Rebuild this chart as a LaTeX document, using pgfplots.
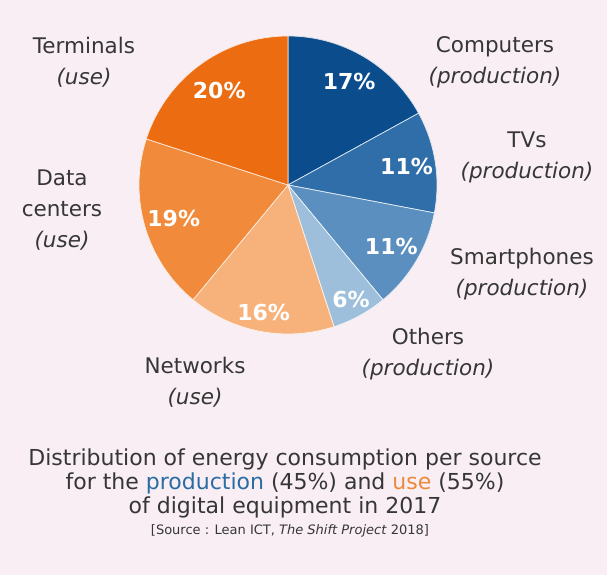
\documentclass[border=0pt]{standalone}
\usepackage{pgfplots}
\pgfplotsset{compat=1.18}
\usepackage{pgfplotstable}
\usepackage{fontspec}
\setmainfont{DejaVu Sans}

\definecolor{bg}{HTML}{F8EEF3}
\definecolor{txt}{HTML}{363636}
\definecolor{s0}{HTML}{0B4D8C}
\definecolor{s1}{HTML}{2F6EA8}
\definecolor{s2}{HTML}{5B8FC0}
\definecolor{s3}{HTML}{9DBFDB}
\definecolor{s4}{HTML}{F7B27C}
\definecolor{s5}{HTML}{F18A3A}
\definecolor{s6}{HTML}{EC6C12}
\definecolor{prodblue}{HTML}{2A6CA3}
\definecolor{useorange}{HTML}{EC8A3C}

% share of energy consumption (%), and radius of the % label (px)
\pgfplotstableread{
name        pct lr
Computers   17  120
TVs         11  120
Smartphones 11  120
Others      6   131
Networks    16  130
Datacenters 19  119
Terminals   20  117
}\piedata

\begin{document}
\begin{tikzpicture}
\begin{axis}[
    hide axis,
    scale only axis,
    x=1pt, y=1pt,
    xmin=0, xmax=607, ymin=0, ymax=575,
    clip=false,
    anchor=south west, at={(0,0)},
  ]
\fill[bg] (axis cs:0,0) rectangle (axis cs:607,575);

\xdef\cum{0}
\pgfplotsinvokeforeach{0,...,6}{
  \pgfplotstablegetelem{#1}{pct}\of\piedata \let\p\pgfplotsretval
  \pgfplotstablegetelem{#1}{lr}\of\piedata \let\lr\pgfplotsretval
  \pgfmathsetmacro\a{90-3.6*\cum}
  \pgfmathsetmacro\b{90-3.6*(\cum+\p)}
  \pgfmathsetmacro\m{(\a+\b)/2}
  \pgfmathsetmacro\lx{288+\lr*cos(\m)}
  \pgfmathsetmacro\ly{390+\lr*sin(\m)}
  \pgfmathtruncatemacro\pi{\p}
  \edef\tmp{%
    \noexpand\fill[s#1, draw=white!85!s#1, line width=0.7pt]
      (axis cs:288,390) -- ++(\a:149pt) arc[start angle=\a, end angle=\b, radius=149pt] -- cycle;
    \noexpand\node[text=white, font=\noexpand\bfseries\noexpand\fontsize{22}{26}\noexpand\selectfont]
      at (axis cs:\lx,\ly) {\pi\noexpand\%};
  }\tmp
  \pgfmathparse{\cum+\p}\xdef\cum{\pgfmathresult}
}

\tikzset{lab/.style={text=txt, align=center, font=\fontsize{21.5}{31}\selectfont}}
\node[lab] at (axis cs:84,513) {Terminals\\\textit{(use)}};
\node[lab] at (axis cs:495,513) {Computers\\\textit{(production)}};
\node[lab] at (axis cs:527,417.5) {TVs\\\textit{(production)}};
\node[lab] at (axis cs:62,365) {Data\\centers\\\textit{(use)}};
\node[lab] at (axis cs:522,301) {Smartphones\\\textit{(production)}};
\node[lab] at (axis cs:428,221) {Others\\\textit{(production)}};
\node[lab] at (axis cs:195,192.5) {Networks\\\textit{(use)}};

\node[text=txt, align=center, font=\fontsize{22}{24}\selectfont] at (axis cs:285,92)
  {Distribution of energy consumption per source\\
   for the \textcolor{prodblue}{production} (45\%) and \textcolor{useorange}{use} (55\%)\\
   of digital equipment in 2017};
\node[text=txt, font=\fontsize{13}{16}\selectfont] at (axis cs:290,44)
  {[Source : Lean ICT, \textit{The Shift Project} 2018]};
\end{axis}
\end{tikzpicture}
\end{document}
